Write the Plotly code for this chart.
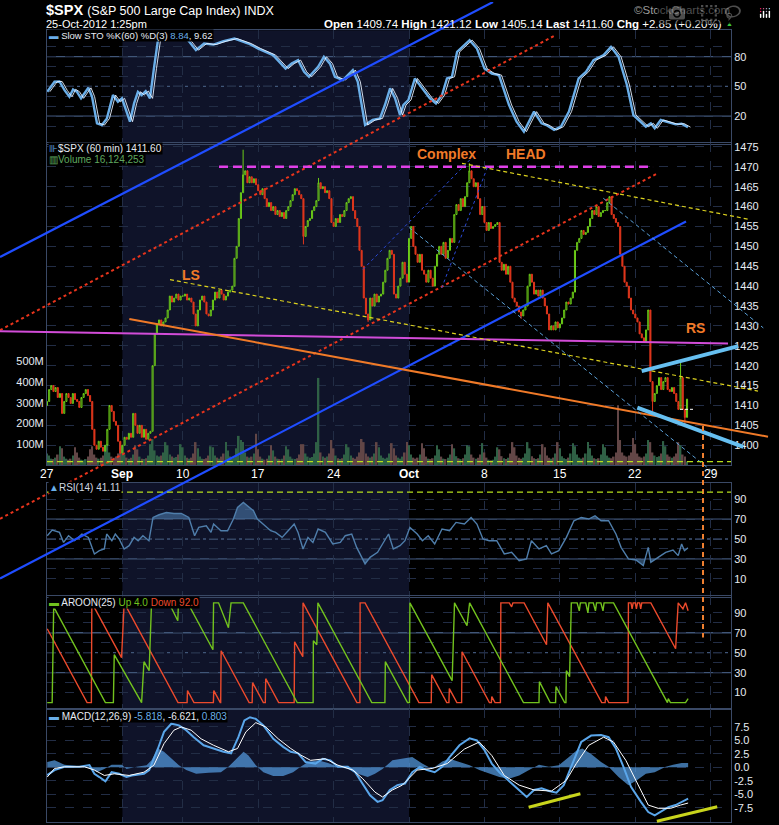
import plotly.graph_objects as go

W, H = 779, 825
FONT = "Liberation Sans Narrow, Arial Narrow, Liberation Sans, Arial, sans-serif"

# ---------------- data ----------------
week_idx = [0, 35, 63, 98, 133, 168, 203, 238, 273, 308]
week_lbl = ["27", "<b>Sep</b>", "10", "17", "24", "<b>Oct</b>", "8", "15", "22", "29"]
september_bars = [35, 168]

first_open = 1410.0
close_by_day = [
    [1411, 1414, 1415, 1413.5, 1414.5, 1412, 1413],
    [1408, 1411, 1413, 1412, 1410.5, 1413, 1411.5],
    [1411, 1409.5, 1412, 1413, 1414, 1412.5, 1411],
    [1404, 1400, 1399, 1401, 1399.5, 1398.5, 1400],
    [1404, 1410, 1408.5, 1406, 1405, 1401, 1398],
    [1400, 1402, 1401.5, 1403, 1402, 1408, 1405],
    [1403, 1405, 1402, 1404, 1401.5, 1403, 1403.5],
    [1420, 1428, 1430.5, 1431.5, 1430, 1431, 1432],
    [1434, 1437.5, 1436, 1437, 1438, 1436.5, 1437.5],
    [1437.5, 1438, 1436.5, 1437, 1436, 1433, 1430],
    [1434, 1436.5, 1437.5, 1436, 1433, 1432.5, 1434],
    [1436.5, 1438.5, 1437, 1439, 1438, 1436.5, 1437.5],
    [1438.5, 1439, 1440, 1447, 1450, 1457, 1463.5],
    [1468, 1469, 1466, 1467.5, 1466, 1467, 1465.5],
    [1464, 1463, 1464.5, 1462, 1460, 1461, 1459],
    [1460, 1458, 1459, 1457.5, 1458.5, 1457, 1459],
    [1460, 1461.5, 1463, 1464.5, 1464, 1463, 1462],
    [1452.5, 1455, 1456.5, 1457, 1459, 1460, 1461.5],
    [1466, 1464.5, 1465, 1463.5, 1464, 1462, 1456],
    [1455, 1457, 1456, 1458, 1457.5, 1459, 1461],
    [1462, 1462.5, 1459, 1457, 1455, 1449, 1445],
    [1437, 1433, 1431.5, 1437, 1435, 1438, 1436],
    [1437.5, 1438, 1441, 1444, 1447, 1449, 1448],
    [1438, 1437, 1440, 1442, 1446, 1443, 1441],
    [1452, 1455, 1450, 1448, 1446, 1448, 1444],
    [1443, 1441, 1444, 1442, 1440, 1445, 1448],
    [1450, 1448, 1451, 1447, 1449, 1452, 1451],
    [1458, 1460.5, 1459, 1462, 1460, 1462.5, 1466],
    [1469, 1467, 1465, 1466, 1462, 1458, 1460],
    [1456, 1454, 1456, 1454.5, 1455, 1455.5, 1456],
    [1446, 1444, 1445.5, 1443, 1445, 1441, 1437],
    [1436, 1435, 1433.5, 1432.5, 1434, 1435, 1440],
    [1443, 1441, 1438, 1439, 1437.5, 1439, 1437],
    [1435, 1433, 1429, 1430, 1429, 1431, 1429.5],
    [1430.5, 1432, 1434, 1436, 1435.5, 1437, 1438.5],
    [1449, 1451, 1452, 1454, 1453, 1453.5, 1455],
    [1457, 1459, 1458, 1460, 1457.5, 1458.5, 1459],
    [1459, 1461, 1462.5, 1458, 1457, 1456, 1455],
    [1448, 1445, 1441, 1440, 1437, 1434, 1433],
    [1432, 1431, 1428, 1427, 1426, 1429, 1434],
    [1416, 1411, 1413, 1415, 1417, 1414, 1416],
    [1417, 1414, 1413.5, 1414.5, 1413, 1411, 1409],
    [1417, 1409, 1407, 1411.6],
]
volume_by_day = [
    [55, 45, 30, 28, 35, 50, 90], [80, 40, 30, 25, 30, 45, 85], [60, 35, 25, 22, 28, 40, 75],
    [90, 50, 35, 30, 35, 45, 95], [100, 60, 40, 35, 40, 55, 110], [90, 50, 35, 30, 35, 50, 95],
    [75, 40, 30, 28, 32, 45, 100], [124, 70, 45, 40, 45, 60, 110], [95, 50, 40, 35, 38, 50, 100],
    [85, 45, 35, 30, 35, 55, 110], [80, 40, 30, 28, 32, 45, 90], [85, 45, 35, 30, 40, 55, 110],
    [70, 40, 30, 35, 80, 140, 120], [110, 60, 40, 35, 40, 55, 150], [75, 40, 30, 25, 30, 45, 95],
    [70, 40, 30, 28, 30, 45, 90], [75, 40, 30, 28, 32, 50, 100], [100, 55, 40, 35, 38, 55, 110],
    [420, 60, 40, 35, 40, 55, 120], [80, 45, 32, 28, 32, 50, 100], [85, 45, 35, 30, 40, 60, 125],
    [110, 55, 40, 35, 40, 55, 110], [85, 45, 35, 30, 35, 55, 105], [80, 45, 35, 30, 40, 60, 110],
    [95, 50, 35, 30, 35, 50, 105], [80, 40, 30, 28, 32, 45, 95], [75, 40, 30, 28, 35, 50, 100],
    [80, 42, 32, 28, 32, 50, 95], [90, 50, 35, 30, 35, 50, 105], [60, 35, 25, 22, 25, 40, 85],
    [75, 42, 32, 28, 35, 55, 110], [85, 45, 35, 30, 35, 55, 110], [80, 42, 32, 28, 32, 50, 100],
    [85, 45, 35, 30, 35, 55, 110], [80, 42, 32, 28, 35, 55, 105], [90, 50, 35, 30, 35, 55, 110],
    [80, 45, 32, 28, 32, 50, 100], [85, 45, 35, 32, 40, 60, 288], [120, 60, 45, 40, 45, 60, 130],
    [100, 55, 40, 35, 40, 55, 120], [110, 60, 45, 38, 42, 55, 115], [90, 50, 40, 35, 40, 55, 110],
    [95, 50, 40, 16.1],
]
wick_high = {91: 1474.3, 196: 1470.9, 294: 1421.1, 126: 1467.2}
wick_low = {119: 1450.5, 149: 1431.0, 281: 1408.5, 296: 1405.1, 220: 1431.8}

price_ticks = list(range(1400, 1480, 5))
volume_ticks = [100, 200, 300, 400, 500]

sto_k_pts = [(0.1, 44.6), (3.5, 54.7), (5.8, 55), (8.2, 46), (10.4, 39.5), (12.1, 47), (13.9, 44.6),
             (15.8, 38), (19.2, 48.6), (20.9, 39.6), (23.2, 12.7), (25.5, 11), (27.8, 17.7), (30.6, 41.3),
             (32.9, 34.5), (34.8, 38), (38.5, 14.4), (40.4, 32.8), (42.2, 44.6), (43.9, 41.3), (45.8, 45.3),
             (47.8, 37.9), (49.6, 68), (51.5, 97), (53, 100), (64, 100), (65.3, 97), (69.1, 86.6),
             (72.9, 93.3), (77.3, 92.2), (81.9, 95.6), (87, 98.3), (93.5, 93.3), (98, 88.2), (104.9, 81.6),
             (110.7, 68), (113.5, 73), (116.5, 76.5), (119.3, 64.7), (121.6, 59.7), (125.8, 69.8),
             (128.5, 79.9), (131.3, 73), (133.6, 59.7), (137.3, 56.4), (141.9, 66.5), (144.2, 54.7),
             (147.6, 11), (151.1, 16.1), (154.5, 17.7), (156.8, 31.2), (159.2, 48), (161.5, 38),
             (163.8, 21.1), (165.4, 31.2), (167.7, 36.3), (170.7, 58), (174, 48), (177.6, 38), (180.5, 32.8),
             (183.3, 41.3), (185.6, 58), (187.9, 59.7), (190.3, 84.9), (196.1, 96.7), (199.5, 88.2),
             (203, 68), (206.4, 63), (209.7, 61.4), (214.4, 31.2), (217.9, 14.4), (221.3, 4.3), (226, 24.5),
             (229.5, 12.7), (231.7, 11), (235.3, 6), (238.5, 9.4), (242.2, 24.5), (246.7, 58), (250.1, 64.7),
             (253.6, 76.5), (258.3, 81.6), (261.7, 89.9), (265.2, 79.9), (269.1, 51.4), (272.1, 21.1),
             (275.5, 14.4), (277.9, 9.4), (280.2, 12.7), (282, 7.7), (284.8, 16.1), (288.2, 13.7),
             (291.7, 11.7), (294.5, 12.4), (297.4, 8.84)]

rsi_pts = [(0.1, 53.3), (2.4, 59), (5.8, 56.6), (7.7, 46.6), (10.0, 53.3), (12.8, 48.3), (16.2, 55),
           (19.2, 51.6), (22.0, 35), (24.3, 38.3), (26.6, 40), (27.7, 55), (30.1, 48.3), (31.7, 55),
           (33.5, 50), (35.8, 40), (38.1, 43.3), (40.4, 51.6), (42.3, 48.3), (44.5, 53.3), (47.3, 48.3),
           (49.2, 71.6), (52.0, 74.3), (55.4, 76.6), (58.9, 75.6), (62.3, 75.6), (65.8, 71.6), (68.5, 53.3),
           (70.4, 61.6), (73.9, 63.3), (76.1, 56.6), (77.3, 65), (80.7, 58.3), (83.8, 58.3), (86.5, 70),
           (88.4, 81.6), (91.1, 86.6), (93.5, 82.3), (95.8, 78.3), (97.6, 70), (100.4, 65), (103.8, 58.3),
           (106.1, 56.6), (109.1, 51.6), (111.9, 58.3), (114.7, 65), (116.5, 56.6), (118.8, 40),
           (121.1, 51.6), (123.4, 46.6), (125.8, 60), (129.2, 56.6), (132.6, 45), (136.1, 46.6),
           (138.4, 53.3), (141.4, 55), (143.7, 41.6), (147.6, 25), (149.9, 31.6), (153.4, 36.6),
           (155.7, 45), (158.5, 55), (160.7, 40), (163.8, 43.3), (166.1, 48.3), (168.4, 61.6), (171.8, 55),
           (174.2, 48.3), (176.9, 53.3), (179.9, 45), (183.3, 60), (186.8, 58.3), (189.8, 66.6),
           (193.7, 65), (196.8, 71.6), (199.5, 65), (202.3, 50), (205.2, 48.3), (208.7, 48.3), (212.2, 35),
           (215.6, 36.6), (219.1, 28.3), (222.5, 30), (224.8, 48.3), (228.3, 40), (231.7, 43.3), (234.1, 35),
           (237.5, 38.3), (241.0, 51.6), (244.5, 68.3), (247.9, 71.6), (251.4, 70), (254.3, 73.3),
           (257.1, 68.3), (260.6, 68.3), (264.0, 55), (266.4, 41.6), (269.8, 30), (273.3, 29), (276.7, 23.3),
           (279.0, 41.6), (280.2, 26.6), (283.6, 31.6), (287.1, 36.6), (290.5, 39), (292.9, 33.3),
           (294.5, 45), (295.8, 38.3), (297.4, 41.11)]

aroon_up_pts = [(0.1, 0), (2.4, 0), (3.1, 96), (27.1, 0), (30.8, 0), (31.2, 48), (43.9, 0), (45.0, 41),
                (47.4, 32), (48.5, 100), (56.6, 100), (60.7, 82), (61.0, 100), (65.3, 100), (77.0, 53),
                (77.3, 100), (79.6, 100), (84.2, 75), (85.4, 100), (91.1, 100), (116.1, 0), (123.5, 0),
                (123.6, 62), (125.2, 58), (125.7, 100), (150.7, 0), (156.8, 0), (157.0, 41), (167.3, 0),
                (168.2, 0), (168.4, 100), (188.0, 22), (189.1, 100), (194.9, 77), (196.1, 100), (221.1, 0),
                (228.3, 0), (228.5, 21), (233.5, 0), (236.0, 0), (236.2, 16), (240.2, 0), (240.8, 0),
                (241.0, 32), (242.5, 26), (243.3, 100), (246, 100), (247, 92), (247.5, 100), (250, 100),
                (251, 90), (251.5, 100), (253.5, 100), (254.5, 92), (255, 100), (257, 100), (258, 92),
                (258.5, 100), (262.9, 100), (287.9, 0), (288.3, 4), (289.3, 0), (296.3, 0), (297.5, 4)]

aroon_dn_pts = [(0.1, 74), (18.6, 0), (20.6, 0), (20.8, 100), (34.6, 45), (35.8, 100), (60.8, 0), (65.0, 0),
                (65.2, 12), (68.2, 0), (77.2, 0), (77.4, 12), (80.4, 0), (80.6, 0), (80.8, 52), (93.8, 0),
                (95.2, 0), (95.4, 20), (100.4, 0), (101.3, 0), (101.5, 24), (107.5, 0), (114.7, 0),
                (114.9, 61), (118.7, 46), (118.8, 100), (143.8, 0), (145.2, 0), (145.3, 100), (147.6, 100),
                (172.6, 0), (178.3, 0), (178.5, 28), (185.5, 0), (186.5, 0), (186.7, 14), (190.2, 0),
                (192.4, 0), (192.6, 51), (205.3, 0), (206.2, 0), (206.4, 6), (207.9, 0), (210.4, 0),
                (210.6, 100), (214.5, 100), (215.6, 96), (216.2, 100), (221.4, 100), (231.8, 58),
                (232.4, 100), (257.4, 0), (259.0, 0), (259.2, 6), (260.7, 0), (269.6, 0), (269.8, 100),
                (271, 100), (271.5, 94), (272, 100), (273, 100), (273.5, 94), (274, 100), (275, 100),
                (275.5, 94), (276, 100), (280.2, 100), (291.7, 54), (292.9, 100), (295.1, 94), (296.3, 100),
                (297.5, 92)]

macd_pts = [(0.1, -1.44), (3.5, -0.52), (8.1, 0.1), (15, 0.1), (19.7, 0.4), (22, -1.2), (24.3, -1.8),
            (27.1, -2.6), (30, -0.9), (33.5, -1.2), (36.9, -1.8), (39.3, -1.5), (45, -1.2), (47.4, -0.5),
            (51.5, 3.5), (54.3, 6.6), (57.7, 8.1), (61.2, 7.8), (64.6, 6.9), (68.1, 5.6), (72.7, 4.1),
            (77.3, 3.5), (81.9, 2.9), (85.4, 2.6), (88.8, 5.6), (91.6, 8.7), (94.2, 9.3), (96.9, 9.0),
            (100.4, 7.8), (105, 5.3), (109.6, 3.8), (113.1, 2.9), (116.5, 2.6), (120, 1.0), (124.6, 0.7),
            (128, 1.6), (131.5, 1.3), (135, 0.1), (139.6, 0.1), (143, -0.9), (146.5, -3.0), (149.9, -5.2),
            (153.4, -6.4), (155.7, -6.1), (159.1, -4.2), (162.6, -3.3), (166.1, -3.0), (169.5, -0.9),
            (173, 0.1), (176.4, -0.5), (179.9, -0.9), (183.4, 0.1), (186.8, 1.9), (191.4, 4.1), (196.1, 5.4),
            (199.5, 5.0), (203, 3.2), (206.4, 0.7), (209.9, -0.9), (213.3, -2.1), (218, -3.9), (222.6, -5.5),
            (226, -4.2), (229.5, -3.9), (233, -4.4), (236.4, -4.7), (239.8, -3.3), (244.5, 1.3), (247.9, 4.7),
            (252.5, 5.9), (257.1, 6.0), (260.6, 5.6), (264, 3.5), (267.5, 0.1), (271, -3.6), (275.6, -6.4),
            (279, -8.3), (282, -8.9), (284.8, -8.3), (288.3, -7.4), (291.7, -7.0), (294.5, -6.4),
            (297.5, -5.818)]

signal_pts = [(0.1, -1.8), (3.5, -0.2), (8.1, 0.1), (17.4, 0.1), (22, -0.5), (26.6, -1.5), (31.2, -1.2),
              (38.1, -1.5), (45, -0.9), (49.6, 0.4), (54.3, 4.4), (58.9, 6.9), (62.3, 7.5), (66.9, 6.9),
              (71.5, 5.3), (77.3, 4.1), (84.2, 2.9), (88.4, 3.5), (92.3, 6.6), (96.9, 8.3), (101.5, 7.5),
              (107.3, 5.3), (113.1, 3.5), (117.7, 2.3), (122.3, 1.3), (129.1, 1.6), (135, 0.4), (141.9, -0.5),
              (146.5, -2.1), (152.2, -4.6), (155.7, -5.5), (160.3, -4.2), (164.9, -3.3), (171.8, -0.5),
              (178.8, -0.2), (185.7, 0.7), (193.7, 3.4), (200.6, 4.7), (206.4, 2.2), (212.2, -1.5),
              (219.1, -3.3), (226, -4.2), (234.1, -4.4), (241, -2.4), (245.6, 0.7), (251.4, 4.1), (258.3, 5.6),
              (262.9, 4.7), (268.6, 1.3), (274.4, -3.3), (279, -7.0), (283.6, -7.6), (289.4, -7.6), (294, -7.0),
              (297.5, -6.621)]

hist_pts = [(0.1, 1.0), (3.5, 1.3), (8.1, 0.5), (15, 0.2), (20.9, -0.3), (23.2, -0.9), (26.6, -0.3), (30, 0.5),
            (34.7, 0.5), (36.9, -0.3), (41.6, 0.1), (46.2, 0.4), (48.5, 1.3), (51.5, 3.5), (54.3, 2.9),
            (57.7, 1.6), (61.2, 0.4), (64.6, -0.5), (69.2, -1.2), (75, -1.0), (80.7, -0.9), (84.2, 0.1),
            (87.7, 1.6), (91.2, 2.9), (93.5, 2.2), (96.9, 0.4), (100.4, -0.9), (105, -1.6), (109.6, -1.6),
            (114.2, -0.9), (117.7, 0.1), (121.2, 1.0), (125.8, 1.3), (130.4, 0.8), (135, 0.1), (139.6, -0.3),
            (144.2, -1.2), (148.8, -1.8), (152.2, -1.2), (155.7, -0.3), (160.3, 1.3), (164.9, 1.6),
            (169.5, 1.9), (174.1, 0.7), (178.8, -0.3), (183.4, 1.1), (186.8, 1.6), (191.4, 1.0), (196.1, 0.4),
            (200.6, -0.5), (205.2, -1.2), (209.9, -1.8), (214.4, -2.1), (219.1, -1.5), (223.7, -0.5),
            (228.3, 0.5), (232.9, 0.1), (237.5, 0.4), (242.2, 1.9), (245.6, 3.1), (248.4, 3.5), (252.5, 2.5),
            (257.1, 1.0), (260.6, 0.1), (265.2, -1.8), (269.8, -3.3), (273.7, -2.4), (277.9, -1.2),
            (282, -0.9), (287.1, 0.1), (290.5, 0.5), (294.5, 0.8), (297.5, 0.803)]

macd_div = {"div1": [(223.5, -7.4), (247.5, -4.9)], "div2": [(283.0, -10.0), (311.0, -7.3)]}

# hand-drawn annotation lines: (bar index, price) endpoints
trend_lines = {
    "blue_upper": [(-21.81, 1447.3), (206.96, 1511.44)],
    "blue_lower": [(-21.81, 1366.47), (296.52, 1456.26)],
    "red_upper": [(-21.81, 1428.92), (236.19, 1503.17)],
    "red_lower": [(-21.81, 1381.51), (283.06, 1468.30)],
    "magenta_top": [(79.81, 1470.0), (281.21, 1470.0)],
    "magenta_neck": [(-21.81, 1428.67), (316.01, 1425.58)],
    "orange_neck": [(38.19, 1431.75), (334.57, 1402.16)],
    "yellow_low": [(57.08, 1441.64), (329.93, 1413.62)],
    "yellow_high": [(192.58, 1470.88), (325.43, 1456.83)],
    "lb_thin_1": [(167.98, 1454.75), (309.98, 1392.83)],
    "lb_thin_2": [(258.14, 1462.10), (332.39, 1429.50)],
    "db_thin_1": [(146.64, 1444.22), (197.68, 1472.57)],
    "db_thin_2": [(183.16, 1439.53), (204.78, 1470.48)],
    "lb_thick_up": [(275.96, 1418.64), (320.79, 1424.91)],
    "lb_thick_dn": [(273.92, 1409.43), (323.11, 1399.57)],
    "orange_vert": [(304.41, 1404.84), (304.41, 1351.67)],
    "white_mark": [(293.74, 1409.03), (299.77, 1409.03)],
}
pattern_labels = {"LS": (66.8, 1442.7), "Complex": (185.2, 1473.2), "HEAD": (222.3, 1473.2), "RS": (301.1, 1429.4)}

hdr_open, hdr_high, hdr_low, hdr_last, hdr_chg, hdr_pct = 1409.74, 1421.12, 1405.14, 1411.60, 2.85, 0.20
sto_k_last, sto_d_last = 8.84, 9.62
rsi_last = 41.11
aroon_up_last, aroon_dn_last = 4.0, 92.0
macd_last, signal_last, hist_last = -5.818, -6.621, 0.803
volume_last = 16124253

# ---------------- styles / layout helpers ----------------
GRID = "#222d45"
BORDER = "#3a4966"
LEVEL = "#405678"
TXT = "#e6ebf2"
SHADE = "#0f1329"
GREEN = "#6ccc18"
RED = "#e0361c"
LBLUE = "#6aaee8"


def fy(px):
    return 1 - px / H


def fx(px):
    return px / W


XD = [fx(47), fx(731)]
XR = [0, 317.4]
dom = {
    "sto": [fy(142), fy(28.3)],
    "main": [fy(464), fy(141.5)],
    "rsi": [fy(596.5), fy(482)],
    "aroon": [fy(708.3), fy(595.7)],
    "macd": [fy(822.3), fy(709)],
}

close = [c for d in close_by_day for c in d]
vol = [v for d in volume_by_day for v in d]
idx = list(range(len(close)))
opens = [first_open] + close[:-1]
high = [max(o, c) for o, c in zip(opens, close)]
low = [min(o, c) for o, c in zip(opens, close)]
for k, v in wick_high.items():
    high[k] = max(high[k], v)
for k, v in wick_low.items():
    low[k] = min(low[k], v)
vol_col = ["#2f6045" if c >= o else "#624646" for o, c in zip(opens, close)]


def xs(pts, lag=0.0):
    return [p[0] + lag for p in pts]


def ys(pts):
    return [p[1] for p in pts]


def band(pts, thr, above=True):
    """polygons between a line and a threshold (only where beyond threshold)"""
    out_x, out_y = [], []
    seg = []

    def inside(v):
        return v > thr if above else v < thr

    for k, (x, y) in enumerate(pts):
        if k > 0:
            x0, y0 = pts[k - 1]
            if inside(y) != inside(y0):
                t = (thr - y0) / (y - y0)
                xc = x0 + t * (x - x0)
                seg.append((xc, thr))
                if not inside(y):
                    out_x += [p[0] for p in seg] + [None]
                    out_y += [p[1] for p in seg] + [None]
                    seg = []
        if inside(y):
            seg.append((x, y))
    if seg:
        seg.append((seg[-1][0], thr))
        out_x += [p[0] for p in seg]
        out_y += [p[1] for p in seg]
    return out_x, out_y


fig = go.Figure()

# --- Slow STO ---
fig.add_trace(go.Scatter(x=xs(sto_k_pts), y=ys(sto_k_pts), mode="lines", line=dict(color=LBLUE, width=2.4),
                         xaxis="x", yaxis="y", hoverinfo="skip"))
fig.add_trace(go.Scatter(x=xs(sto_k_pts, 1.2), y=ys(sto_k_pts), mode="lines", line=dict(color="#e8f2ff", width=0.9),
                         xaxis="x", yaxis="y", hoverinfo="skip"))

# --- volume + price ---
fig.add_trace(go.Bar(x=idx, y=vol, marker=dict(color=vol_col, line=dict(width=0)), width=0.75,
                     xaxis="x2", yaxis="y2", hoverinfo="skip"))
fig.add_trace(go.Candlestick(x=idx, open=opens, high=high, low=low, close=close, xaxis="x2", yaxis="y3",
                             increasing=dict(line=dict(color=GREEN, width=1), fillcolor="rgba(0,0,0,0)"),
                             decreasing=dict(line=dict(color=RED, width=1), fillcolor=RED),
                             whiskerwidth=0, hoverinfo="skip"))

# --- RSI ---
for thr, above in [(70, True), (30, False)]:
    bx, by = band(rsi_pts, thr, above)
    fig.add_trace(go.Scatter(x=bx, y=by, mode="lines", fill="toself", fillcolor="rgba(80,130,180,0.55)",
                             line=dict(width=0), xaxis="x4", yaxis="y4", hoverinfo="skip"))
fig.add_trace(go.Scatter(x=xs(rsi_pts), y=ys(rsi_pts), mode="lines", line=dict(color="#4f7eab", width=1.4),
                         xaxis="x4", yaxis="y4", hoverinfo="skip"))

# --- AROON ---
fig.add_trace(go.Scatter(x=xs(aroon_dn_pts), y=ys(aroon_dn_pts), mode="lines", line=dict(color="#ec4a2c", width=1.4),
                         xaxis="x5", yaxis="y5", hoverinfo="skip"))
fig.add_trace(go.Scatter(x=xs(aroon_up_pts), y=ys(aroon_up_pts), mode="lines", line=dict(color="#72c21e", width=1.4),
                         xaxis="x5", yaxis="y5", hoverinfo="skip"))

# --- MACD ---
fig.add_trace(go.Scatter(x=xs(hist_pts), y=ys(hist_pts), mode="lines", fill="tozeroy",
                         fillcolor="rgba(85,155,225,0.72)", line=dict(width=0, color="rgba(0,0,0,0)"),
                         xaxis="x6", yaxis="y6", hoverinfo="skip"))
fig.add_trace(go.Scatter(x=xs(macd_pts), y=ys(macd_pts), mode="lines", line=dict(color="#5aa6ea", width=2),
                         xaxis="x6", yaxis="y6", hoverinfo="skip"))
fig.add_trace(go.Scatter(x=xs(signal_pts), y=ys(signal_pts), mode="lines", line=dict(color="#ffffff", width=1),
                         xaxis="x6", yaxis="y6", hoverinfo="skip"))

# --- overlay drawing lines (whole figure) ---
line_style = {
    "blue_upper": dict(color="#1f4dff", width=2.2),
    "blue_lower": dict(color="#1f4dff", width=2.2),
    "red_upper": dict(color="#e8341c", width=2, dash="3px,3px"),
    "red_lower": dict(color="#e8341c", width=2, dash="3px,3px"),
    "magenta_top": dict(color="#e040e8", width=2.5, dash="9px,5px"),
    "magenta_neck": dict(color="#d24cd8", width=2),
    "orange_neck": dict(color="#f07a28", width=2),
    "yellow_low": dict(color="#dcd21e", width=1.2, dash="4px,3px"),
    "yellow_high": dict(color="#dcd21e", width=1.2, dash="4px,3px"),
    "lb_thin_1": dict(color="#5aa0d8", width=1, dash="4px,3px"),
    "lb_thin_2": dict(color="#5aa0d8", width=1, dash="4px,3px"),
    "db_thin_1": dict(color="#2a4ad8", width=1, dash="3px,3px"),
    "db_thin_2": dict(color="#2a4ad8", width=1, dash="3px,3px"),
    "lb_thick_up": dict(color="#66bff0", width=4),
    "lb_thick_dn": dict(color="#66bff0", width=4),
    "orange_vert": dict(color="#f08030", width=2, dash="5px,4px"),
    "white_mark": dict(color="#ffffff", width=1, dash="3px,2px"),
}
for name, pts in trend_lines.items():
    fig.add_trace(go.Scatter(x=xs(pts), y=ys(pts), mode="lines", line=line_style[name],
                             xaxis="x7", yaxis="y7", hoverinfo="skip"))
# yellow divergence marks below the MACD lines (may run past the panel)
for pts in macd_div.values():
    fig.add_trace(go.Scatter(x=xs(pts), y=ys(pts), mode="lines", line=dict(color="#c8d41c", width=3),
                             xaxis="x8", yaxis="y8", hoverinfo="skip"))

# ---------------- axes ----------------
tickfont = dict(family=FONT, size=11, color=TXT)


def xax(anchor):
    return dict(domain=XD, range=XR, anchor=anchor, tickvals=week_idx, showticklabels=False,
                showgrid=True, gridcolor=GRID, griddash="dash", gridwidth=1,
                zeroline=False, showline=True, mirror=True, linecolor=BORDER, linewidth=1, ticks="",
                fixedrange=True)


def yax(anchor, domain, rng, vals, text):
    return dict(domain=domain, range=rng, anchor=anchor, side="right", tickvals=vals, ticktext=text,
                showgrid=True, gridcolor=GRID, griddash="dash", gridwidth=1, zeroline=False,
                showline=True, mirror=True, linecolor=BORDER, ticks="", tickfont=tickfont, fixedrange=True)


tens = [10, 20, 30, 40, 50, 60, 70, 80, 90]
macd_rng = [-10.2, 10.78]
macd_px = (822.3 - 709) / (macd_rng[1] - macd_rng[0])  # pixels per MACD unit
x2 = xax("y2")
x2["rangeslider"] = dict(visible=False)
layout = dict(
    width=W, height=H, margin=dict(l=0, r=0, t=0, b=0), paper_bgcolor="#000000",
    plot_bgcolor="rgba(0,0,0,0)", showlegend=False, font=dict(family=FONT, color=TXT),
    xaxis=xax("y"),
    yaxis=yax("x", dom["sto"], [-7.8, 106.7], tens, ["", "20", "", "", "50", "", "", "80", ""]),
    xaxis2=x2,
    yaxis2=dict(domain=dom["main"], range=[0, 1554], anchor="x2", side="left", tickvals=volume_ticks,
                ticktext=[f"{v}M" for v in volume_ticks], showgrid=False, zeroline=False, showline=True,
                linecolor=BORDER, ticks="", tickfont=tickfont, fixedrange=True),
    yaxis3=dict(range=[1395.06, 1475.95], overlaying="y2", anchor="x2", side="right", tickvals=price_ticks,
                showgrid=True, gridcolor=GRID, griddash="dash", zeroline=False, showline=True,
                linecolor=BORDER, ticks="", tickfont=tickfont, fixedrange=True),
    xaxis4=xax("y4"),
    yaxis4=yax("x4", dom["rsi"], [-8.2, 106.3], tens, ["10", "", "30", "", "50", "", "70", "", "90"]),
    xaxis5=xax("y5"),
    yaxis5=yax("x5", dom["aroon"], [-6.0, 106.6], tens, ["10", "", "30", "", "50", "", "70", "", "90"]),
    xaxis6=xax("y6"),
    yaxis6=yax("x6", dom["macd"], macd_rng, [-7.5, -5, -2.5, 0, 2.5, 5, 7.5],
               ["-7.5", "-5.0", "-2.5", "0.0", "2.5", "5.0", "7.5"]),
    xaxis7=dict(domain=[0, 1], range=[-21.81, 339.67], anchor="y7", visible=False, fixedrange=True),
    yaxis7=dict(domain=[0, 1], range=[1304.52, 1511.44], anchor="x7", visible=False, fixedrange=True),
    # same MACD scale, extended over the whole figure so the marks are not clipped
    xaxis8=dict(domain=[0, 1], range=[-21.81, 339.67], anchor="y8", visible=False, fixedrange=True),
    yaxis8=dict(domain=[0, 1], range=[macd_rng[0] - (H - 822.3) / macd_px, macd_rng[1] + 709 / macd_px],
                anchor="x8", visible=False, fixedrange=True),
)
fig.update_layout(**layout)

# ---------------- shapes ----------------
shapes = []
for xr, yr in [("x", "y"), ("x2", "y2"), ("x4", "y4"), ("x5", "y5"), ("x6", "y6")]:
    shapes.append(dict(type="rect", xref=xr, yref=f"{yr} domain", x0=september_bars[0], x1=september_bars[1],
                       y0=0, y1=1, fillcolor=SHADE, line=dict(width=0), layer="below"))
for xr, yr, solid in [("x", "y", (20, 80)), ("x4", "y4", (30, 70)), ("x5", "y5", (30, 70))]:
    for lv in solid:
        shapes.append(dict(type="line", xref=f"{xr} domain", yref=yr, x0=0, x1=1, y0=lv, y1=lv,
                           line=dict(color=LEVEL, width=1.3), layer="below"))
    shapes.append(dict(type="line", xref=f"{xr} domain", yref=yr, x0=0, x1=1, y0=50, y1=50,
                       line=dict(color=LEVEL, width=1.3, dash="dashdot"), layer="below"))
shapes.append(dict(type="line", xref="x2 domain", yref="y2", x0=0, x1=1, y0=vol[-1], y1=vol[-1],
                   line=dict(color="#b8e01c", width=1.3, dash="6px,4px"), layer="above"))
shapes.append(dict(type="line", xref="x4 domain", yref="y4", x0=0, x1=1, y0=97, y1=97,
                   line=dict(color="#b8e01c", width=1.3, dash="6px,4px"), layer="above"))
fig.update_layout(shapes=shapes)

# ---------------- texts ----------------
ann = []


def txt(x, y, s, size=11, color=TXT, anchor="left", bg=None):
    d = dict(x=fx(x), y=fy(y), xref="paper", yref="paper", text=s, showarrow=False, xanchor=anchor,
             yanchor="middle", font=dict(family=FONT, size=size, color=color), borderpad=0)
    if bg:
        d["bgcolor"] = bg
    ann.append(d)


txt(45, 8, "<b>$SPX</b> <span style='font-size:12.5px'>(S&P 500 Large Cap Index) INDX</span>", size=14.5,
    color="#ffffff")
txt(45, 22.5, "25-Oct-2012 1:25pm", size=11, color="#ffffff")
txt(731, 8, "©StockCharts.com", size=11.5, color="#9a9a9a", anchor="right")
txt(723, 22, f"<b>Open</b> {hdr_open:.2f} <b>High</b> {hdr_high:.2f} <b>Low</b> {hdr_low:.2f} "
             f"<b>Last</b> {hdr_last:.2f} <b>Chg</b> +{hdr_chg:.2f} (+{hdr_pct:.2f}%)",
    size=11.5, color="#ffffff", anchor="right")
txt(725, 22, "▲", size=7, color="#3cc83c")

txt(48, 34, f"<span style='color:{LBLUE}'>▬</span> Slow STO %K(60) %D(3) "
            f"<span style='color:{LBLUE}'>{sto_k_last:.2f}</span>, {sto_d_last:.2f}", size=9.5, bg="#000000")
txt(48, 147, f"<span style='color:{LBLUE}'>⊪</span>$SPX (60 min) {hdr_last:.2f}", size=10, bg="#000000")
txt(48, 157.5, f"<span style='color:#5fa85f'>▥Volume {volume_last:,}</span>", size=10, bg="#000000")
txt(48, 487, f"<span style='color:{LBLUE}'>▲</span>RSI(14) {rsi_last:.2f}", size=10, color="#d0d8e0", bg="#000000")
txt(48, 602, f"<span style='color:#72c21e'>▬</span> AROON(25) <span style='color:#72c21e'>Up {aroon_up_last:.1f}</span> "
             f"<span style='color:#ec4a2c'>Down {aroon_dn_last:.1f}</span>", size=10, bg="#000000")
txt(48, 716, f"<span style='color:{LBLUE}'>▬</span> MACD(12,26,9) <span style='color:{LBLUE}'>{macd_last:.3f}</span>, "
             f"{signal_last:.3f}, <span style='color:{LBLUE}'>{hist_last:.3f}</span>", size=10, bg="#000000")

# x tick labels of the price panel
for v, t in zip(week_idx, week_lbl):
    ann.append(dict(x=v, y=fy(473.5), xref="x2", yref="paper", text=t, showarrow=False, xanchor="center",
                    yanchor="middle", font=dict(family=FONT, size=12, color="#ffffff")))

for label, (bx, bp) in pattern_labels.items():
    ann.append(dict(x=bx, y=bp, xref="x7", yref="y7", text=f"<b>{label}</b>", showarrow=False,
                    font=dict(family="Liberation Sans, Arial, sans-serif", size=14, color="#f07a28")))

fig.update_layout(annotations=ann)

fig.write_html("out.html", post_script="document.body.style.margin='0';document.body.style.background='#000';")
